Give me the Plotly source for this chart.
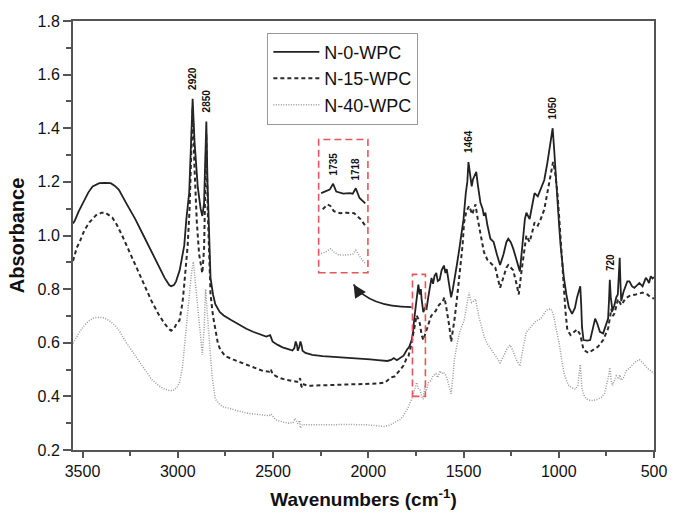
import plotly.graph_objects as go

# ---------------- data ----------------
series_names = ["N-0-WPC", "N-15-WPC", "N-40-WPC"]

wn_n0 = [3550, 3541, 3520, 3498, 3470, 3447, 3412, 3380, 3352, 3330, 3309, 3270, 3223, 3180, 3138, 3100,
         3069, 3045, 3035, 3020, 3009, 2990, 2975, 2966, 2955, 2948, 2940, 2930, 2922, 2912, 2895, 2880,
         2871, 2862, 2855, 2850, 2844, 2836, 2828, 2815, 2803, 2780, 2759, 2720, 2674, 2640, 2605, 2560,
         2536, 2515, 2502, 2475, 2450, 2420, 2398, 2388, 2381, 2374, 2370, 2362, 2356, 2350, 2345, 2330,
         2294, 2240, 2175, 2100, 2040, 1990, 1950, 1900, 1880, 1866, 1850, 1830, 1815, 1797, 1785, 1772,
         1765, 1760, 1754, 1745, 1737, 1730, 1724, 1720, 1711, 1702, 1694, 1685, 1678, 1668, 1660, 1652,
         1643, 1635, 1625, 1615, 1603, 1595, 1588, 1582, 1573, 1565, 1556, 1548, 1535, 1522, 1515, 1508,
         1500, 1488, 1480, 1474, 1468, 1462, 1457, 1450, 1440, 1433, 1425, 1418, 1411, 1400, 1393, 1385,
         1375, 1359, 1342, 1325, 1308, 1290, 1275, 1265, 1252, 1239, 1220, 1204, 1190, 1178, 1170, 1160,
         1153, 1140, 1127, 1110, 1095, 1076, 1060, 1045, 1032, 1024, 1016, 1007, 998, 990, 981, 973,
         960, 947, 930, 915, 904, 892, 887, 882, 878, 870, 850, 835, 822, 809, 797, 784,
         767, 755, 741, 736, 732, 727, 718, 708, 698, 690, 684, 680, 676, 672, 660, 650,
         640, 629, 615, 603, 590, 577, 560, 543, 535, 526, 517, 508, 500]
abs_n0 = [1.045, 1.055, 1.09, 1.122, 1.16, 1.183, 1.195, 1.196, 1.195, 1.185, 1.17, 1.12, 1.061, 1.0, 0.939, 0.885,
          0.842, 0.815, 0.811, 0.815, 0.829, 0.87, 0.93, 0.963, 1.06, 1.11, 1.16, 1.35, 1.51, 1.35, 1.18, 1.10,
          1.073, 1.12, 1.30, 1.425, 1.20, 1.0, 0.842, 0.78, 0.744, 0.715, 0.702, 0.685, 0.665, 0.652, 0.641, 0.63,
          0.623, 0.628, 0.604, 0.592, 0.583, 0.576, 0.571, 0.58, 0.605, 0.59, 0.57, 0.585, 0.605, 0.59, 0.57, 0.562,
          0.555, 0.55, 0.547, 0.545, 0.543, 0.538, 0.535, 0.532, 0.536, 0.543, 0.535, 0.545, 0.552, 0.574, 0.585, 0.61,
          0.64, 0.68, 0.72, 0.79, 0.817, 0.78, 0.80, 0.763, 0.714, 0.73, 0.726, 0.77, 0.80, 0.842, 0.82, 0.85,
          0.86, 0.83, 0.835, 0.87, 0.888, 0.86, 0.875, 0.842, 0.80, 0.769, 0.80, 0.829, 0.89, 0.95, 0.99, 1.02,
          1.06, 1.158, 1.20, 1.274, 1.24, 1.20, 1.183, 1.21, 1.225, 1.237, 1.19, 1.15, 1.122, 1.10, 1.073, 1.085,
          1.04, 0.988, 0.976, 0.93, 0.89, 0.93, 0.975, 0.988, 0.975, 0.951, 0.90, 0.866, 0.97, 1.06, 1.085, 1.07,
          1.061, 1.11, 1.158, 1.146, 1.17, 1.207, 1.27, 1.34, 1.40, 1.32, 1.219, 1.13, 1.037, 0.96, 0.89, 0.842,
          0.78, 0.732, 0.708, 0.73, 0.769, 0.80, 0.811, 0.74, 0.659, 0.61, 0.608, 0.61, 0.65, 0.69, 0.67, 0.641,
          0.635, 0.66, 0.69, 0.76, 0.835, 0.77, 0.72, 0.74, 0.769, 0.78, 0.85, 0.917, 0.82, 0.756, 0.79, 0.81,
          0.829, 0.829, 0.81, 0.805, 0.815, 0.823, 0.81, 0.842, 0.835, 0.823, 0.848, 0.84, 0.845]

wn_n15 = [3550, 3530, 3515, 3490, 3464, 3430, 3400, 3380, 3344, 3320, 3292, 3260, 3223, 3180, 3138, 3100,
          3069, 3045, 3035, 3020, 3005, 2991, 2975, 2966, 2955, 2948, 2938, 2930, 2922, 2912, 2900, 2888,
          2871, 2862, 2856, 2850, 2843, 2835, 2828, 2815, 2803, 2790, 2777, 2750, 2708, 2660, 2622, 2580,
          2553, 2520, 2512, 2502, 2470, 2433, 2400, 2375, 2364, 2358, 2352, 2346, 2338, 2320, 2296, 2240,
          2175, 2100, 2040, 1990, 1950, 1910, 1883, 1860, 1832, 1815, 1800, 1789, 1775, 1763, 1755, 1746,
          1738, 1729, 1720, 1711, 1702, 1694, 1680, 1670, 1660, 1645, 1635, 1625, 1612, 1600, 1590, 1582,
          1574, 1565, 1556, 1548, 1535, 1522, 1512, 1505, 1497, 1485, 1471, 1462, 1454, 1445, 1437, 1425,
          1411, 1400, 1393, 1375, 1359, 1333, 1320, 1308, 1290, 1275, 1265, 1250, 1239, 1222, 1210, 1195,
          1180, 1170, 1160, 1153, 1140, 1127, 1110, 1095, 1076, 1060, 1045, 1030, 1020, 1007, 998, 990,
          980, 973, 965, 955, 938, 920, 904, 887, 878, 870, 844, 818, 793, 767, 741, 730,
          724, 716, 707, 689, 680, 672, 650, 629, 595, 560, 535, 517, 500]
abs_n15 = [0.905, 0.955, 0.976, 1.02, 1.049, 1.075, 1.085, 1.085, 1.067, 1.04, 1.0, 0.95, 0.89, 0.82, 0.756, 0.705,
           0.671, 0.65, 0.645, 0.652, 0.673, 0.683, 0.75, 0.817, 0.90, 0.963, 1.10, 1.30, 1.48, 1.25, 1.05, 0.93,
           0.86, 0.95, 1.20, 1.38, 1.10, 0.90, 0.78, 0.70, 0.647, 0.60, 0.574, 0.55, 0.537, 0.524, 0.513, 0.503,
           0.495, 0.492, 0.502, 0.482, 0.47, 0.462, 0.457, 0.455, 0.455, 0.468, 0.44, 0.432, 0.445, 0.44, 0.44, 0.441,
           0.442, 0.444, 0.445, 0.446, 0.448, 0.452, 0.47, 0.475, 0.50, 0.515, 0.54, 0.55, 0.59, 0.635, 0.67, 0.702,
           0.69, 0.671, 0.63, 0.61, 0.63, 0.647, 0.68, 0.70, 0.708, 0.72, 0.735, 0.744, 0.75, 0.769, 0.73, 0.70,
           0.659, 0.604, 0.64, 0.683, 0.76, 0.842, 0.92, 0.963, 1.049, 1.09, 1.11, 1.09, 1.079, 1.10, 1.116, 1.06,
           1.012, 0.97, 0.939, 0.91, 0.897, 0.88, 0.84, 0.805, 0.845, 0.88, 0.89, 0.88, 0.87, 0.82, 0.78, 0.87,
           0.96, 1.0, 0.985, 0.976, 1.01, 1.049, 1.037, 1.06, 1.097, 1.16, 1.22, 1.274, 1.24, 1.158, 1.07, 0.976,
           0.88, 0.817, 0.72, 0.647, 0.629, 0.64, 0.65, 0.63, 0.60, 0.574, 0.562, 0.574, 0.586, 0.61, 0.653, 0.70,
           0.726, 0.70, 0.71, 0.763, 0.75, 0.74, 0.765, 0.775, 0.78, 0.787, 0.78, 0.769, 0.765]

wn_n40 = [3550, 3530, 3515, 3490, 3464, 3440, 3412, 3385, 3361, 3330, 3309, 3270, 3223, 3180, 3138, 3100,
          3069, 3045, 3026, 3005, 2991, 2975, 2966, 2955, 2940, 2928, 2918, 2905, 2888, 2878, 2871, 2862,
          2854, 2846, 2837, 2828, 2820, 2810, 2803, 2780, 2759, 2725, 2680, 2622, 2553, 2520, 2510, 2485,
          2450, 2416, 2395, 2385, 2378, 2370, 2360, 2356, 2345, 2330, 2262, 2175, 2100, 2004, 1960, 1918,
          1890, 1866, 1845, 1830, 1814, 1800, 1790, 1772, 1760, 1746, 1738, 1729, 1720, 1711, 1703, 1695,
          1685, 1670, 1660, 1645, 1635, 1625, 1615, 1605, 1591, 1580, 1572, 1565, 1556, 1548, 1535, 1522,
          1510, 1497, 1485, 1471, 1463, 1457, 1447, 1437, 1420, 1402, 1390, 1376, 1360, 1342, 1325, 1308,
          1290, 1270, 1256, 1240, 1225, 1204, 1190, 1178, 1170, 1157, 1144, 1130, 1118, 1105, 1093, 1080,
          1067, 1055, 1041, 1030, 1024, 1010, 998, 985, 973, 960, 947, 930, 912, 900, 892, 887,
          882, 878, 865, 852, 835, 818, 800, 775, 760, 750, 740, 732, 725, 718, 708, 698,
          690, 685, 680, 672, 660, 646, 630, 612, 595, 577, 565, 552, 535, 517, 500]
abs_n40 = [0.598, 0.625, 0.641, 0.665, 0.683, 0.693, 0.695, 0.692, 0.683, 0.665, 0.647, 0.60, 0.55, 0.505, 0.464, 0.44,
           0.427, 0.422, 0.421, 0.432, 0.452, 0.51, 0.574, 0.66, 0.78, 0.86, 0.902, 0.80, 0.659, 0.58, 0.555, 0.65,
           0.80, 0.72, 0.647, 0.55, 0.476, 0.42, 0.39, 0.37, 0.36, 0.355, 0.345, 0.336, 0.33, 0.328, 0.334, 0.312,
           0.305, 0.30, 0.302, 0.318, 0.31, 0.298, 0.31, 0.282, 0.296, 0.294, 0.294, 0.296, 0.295, 0.294, 0.291, 0.288,
           0.292, 0.30, 0.31, 0.315, 0.33, 0.345, 0.36, 0.39, 0.42, 0.452, 0.43, 0.427, 0.40, 0.39, 0.44, 0.42,
           0.45, 0.46, 0.477, 0.485, 0.47, 0.495, 0.485, 0.49, 0.477, 0.45, 0.43, 0.41, 0.47, 0.537, 0.59, 0.635,
           0.66, 0.683, 0.73, 0.787, 0.76, 0.75, 0.755, 0.763, 0.70, 0.647, 0.62, 0.598, 0.58, 0.562, 0.545, 0.525,
           0.55, 0.58, 0.592, 0.57, 0.54, 0.513, 0.57, 0.62, 0.641, 0.65, 0.66, 0.67, 0.683, 0.685, 0.69, 0.705,
           0.72, 0.725, 0.726, 0.71, 0.69, 0.64, 0.598, 0.54, 0.489, 0.46, 0.44, 0.432, 0.427, 0.44, 0.48, 0.519,
           0.47, 0.427, 0.40, 0.39, 0.385, 0.385, 0.388, 0.397, 0.41, 0.44, 0.47, 0.507, 0.46, 0.44, 0.46, 0.477,
           0.47, 0.465, 0.48, 0.46, 0.47, 0.495, 0.505, 0.519, 0.53, 0.537, 0.53, 0.52, 0.505, 0.495, 0.485]

# magnified inset (1745-1710 cm-1), display units
inset_wn_n0 = [1744.1, 1740.5, 1737.7, 1735.1, 1732.8, 1727.5, 1722.8, 1720.4, 1718.1, 1715.3, 1711.0]
inset_abs_n0 = [1.158, 1.164, 1.171, 1.193, 1.164, 1.156, 1.158, 1.156, 1.176, 1.140, 1.120]
inset_wn_n15 = [1742.9, 1739.3, 1737.2, 1734.6, 1729.9, 1725.2, 1719.3, 1716.9, 1714.6, 1711.0]
inset_abs_n15 = [1.098, 1.116, 1.110, 1.091, 1.083, 1.085, 1.083, 1.073, 1.061, 1.037]
inset_wn_n40 = [1744.1, 1740.5, 1737.0, 1734.6, 1731.0, 1725.2, 1720.4, 1718.1, 1715.8, 1713.4, 1711.0]
inset_abs_n40 = [0.933, 0.939, 0.951, 0.939, 0.927, 0.927, 0.930, 0.945, 0.927, 0.909, 0.897]

peak_labels = ["2920", "2850", "1464", "1050", "720"]
peak_wn = [2922, 2850, 1474, 1032, 732]
peak_abs = [1.51, 1.425, 1.274, 1.40, 0.835]

inset_labels = ["1735", "1718"]
inset_label_wn = [1735.1, 1718.1]
inset_label_abs = [1.193, 1.176]

x_ticks = [3500, 3000, 2500, 2000, 1500, 1000, 500]
y_ticks = [0.2, 0.4, 0.6, 0.8, 1.0, 1.2, 1.4, 1.6, 1.8]

# ---------------- figure ----------------
FONT = "Liberation Sans, Arial, sans-serif"
styles = [
    dict(color="#222222", width=1.8, dash="solid"),
    dict(color="#2a2a2a", width=2.0, dash="4px,3px"),
    dict(color="#9a9a9a", width=1.5, dash="1px,1.5px"),
]

fig = go.Figure()
for name, xs, ys, st in zip(series_names, [wn_n0, wn_n15, wn_n40], [abs_n0, abs_n15, abs_n40], styles):
    fig.add_trace(go.Scatter(x=xs, y=ys, mode="lines", name=name, line=st))

for xs, ys, st in zip([inset_wn_n0, inset_wn_n15, inset_wn_n40],
                      [inset_abs_n0, inset_abs_n15, inset_abs_n40], styles):
    fig.add_trace(go.Scatter(x=xs, y=ys, mode="lines", line=st, showlegend=False,
                             xaxis="x2", yaxis="y2", hoverinfo="skip"))

annotations = []
for t, xv, yv in zip(peak_labels, peak_wn, peak_abs):
    annotations.append(dict(x=xv, y=yv, xref="x", yref="y", text="<b>%s</b>" % t, showarrow=False,
                            textangle=-90, yanchor="bottom", xanchor="center", yshift=7,
                            font=dict(family=FONT, size=10, color="#111")))
for t, xv, yv in zip(inset_labels, inset_label_wn, inset_label_abs):
    annotations.append(dict(x=xv, y=yv, xref="x2", yref="y2", text="<b>%s</b>" % t, showarrow=False,
                            textangle=-90, yanchor="bottom", xanchor="center", yshift=6,
                            font=dict(family=FONT, size=10, color="#111")))
# arrow head of the curved pointer
annotations.append(dict(x=2077, y=0.817, xref="x", yref="y", ax=7, ay=11, axref="pixel", ayref="pixel",
                        text="", showarrow=True, arrowhead=2, arrowsize=1.6, arrowwidth=1.6,
                        arrowcolor="#222", standoff=0))

shapes = [
    # small dashed box around the 1735/1718 region
    dict(type="rect", xref="x", yref="y", x0=1768, x1=1700, y0=0.40, y1=0.855,
         line=dict(color="#e8555a", width=1.6, dash="7px,4px")),
    # inset frame
    dict(type="rect", xref="x2 domain", yref="y2 domain", x0=0, x1=1, y0=0, y1=1,
         line=dict(color="#e8555a", width=1.6, dash="7px,4px")),
    # curved pointer
    dict(type="path", xref="x", yref="y", path="M 1773,0.733 Q 1995,0.733 2077,0.817",
         line=dict(color="#222", width=1.6)),
]

axis_common = dict(showgrid=False, zeroline=False, showline=True, linecolor="#555", linewidth=2,
                   mirror=True, ticks="outside", tickcolor="#555", tickwidth=1.5,
                   tickfont=dict(family=FONT, size=16, color="#111"))

fig.update_layout(
    width=679, height=519,
    margin=dict(l=73, r=17, t=21, b=60),
    paper_bgcolor="white", plot_bgcolor="white",
    showlegend=True,
    legend=dict(x=0.3345, y=0.9726, xanchor="left", yanchor="top",
                bgcolor="rgba(255,255,255,1)", bordercolor="#999", borderwidth=1,
                font=dict(family=FONT, size=18, color="#111"), itemwidth=46,
                tracegroupgap=0),
    xaxis=dict(range=[3550, 500], tickvals=x_ticks, ticklen=6,
               minor=dict(dtick=250, ticklen=4, tickcolor="#555", ticks="outside", showgrid=False),
               title=dict(text="<b>Wavenumbers (cm<sup>-1</sup>)</b>", standoff=13,
                          font=dict(family=FONT, size=19, color="#111")),
               **axis_common),
    yaxis=dict(range=[0.2, 1.8], tickvals=y_ticks, tickformat=".1f", ticklen=8,
               minor=dict(dtick=0.1, ticklen=5, tickcolor="#555", ticks="outside", showgrid=False),
               title=dict(text="<b>Absorbance</b>", standoff=8,
                          font=dict(family=FONT, size=20, color="#111")),
               **axis_common),
    xaxis2=dict(domain=[0.4228, 0.5076], range=[1746, 1709], visible=False, anchor="y2"),
    yaxis2=dict(domain=[0.4132, 0.7237], range=[0.861, 1.358], visible=False, anchor="x2"),
    annotations=annotations,
    shapes=shapes,
)

fig.write_html("out.html", config={"displayModeBar": False},
               post_script="document.body.style.margin='0';document.body.style.overflow='hidden';")
